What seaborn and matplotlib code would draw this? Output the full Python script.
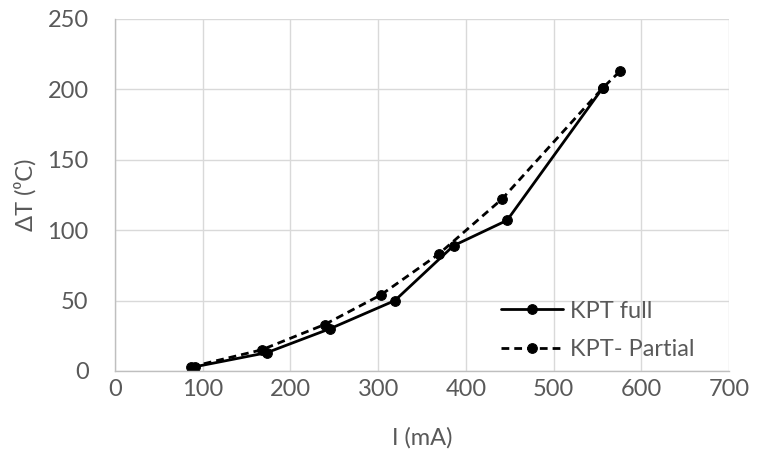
import matplotlib
matplotlib.use("Agg")
import matplotlib.pyplot as plt
import seaborn as sns

# ── Data ──────────────────────────────────────────────────────────────────────
full_i  = [91, 173, 245, 319, 386, 447, 556]
full_dt = [3, 13, 30, 50, 89, 107, 201]

partial_i  = [87, 167, 239, 303, 369, 441, 556, 576]
partial_dt = [3, 15, 33, 54, 83, 122, 201, 213]

x_ticks = [0, 100, 200, 300, 400, 500, 600, 700]
y_ticks = [0, 50, 100, 150, 200, 250]

# ── Style ─────────────────────────────────────────────────────────────────────
sns.set_style("white")
plt.rcParams["font.family"] = ["Lato", "DejaVu Sans"]
TXT = "#595959"
FS = 17

fig = plt.figure(figsize=(7.57, 4.62), dpi=100)
ax = fig.add_axes([0.152, 0.197, 0.811, 0.762])

sns.lineplot(x=full_i, y=full_dt, ax=ax, color="black", linewidth=2,
             marker="o", markersize=7, markeredgecolor="black", label="KPT full")
sns.lineplot(x=partial_i, y=partial_dt, ax=ax, color="black", linewidth=2,
             linestyle=(0, (2.8, 1.8)), marker="o", markersize=7,
             markeredgecolor="black", label="KPT- Partial")

ax.set_xlim(0, 700)
ax.set_ylim(0, 250)
ax.set_xticks(x_ticks)
ax.set_yticks(y_ticks)
ax.grid(True, color="#d9d9d9", linewidth=1)
ax.set_axisbelow(True)
for s in ["top", "right"]:
    ax.spines[s].set_visible(False)
for s in ["left", "bottom"]:
    ax.spines[s].set_color("#bfbfbf")
    ax.spines[s].set_linewidth(1)
ax.tick_params(axis="both", length=0, labelsize=FS, colors=TXT)
ax.tick_params(axis="x", pad=6)
ax.tick_params(axis="y", pad=19)

ax.set_xlabel("I (mA)", fontsize=FS, color=TXT, labelpad=19)
ax.set_ylabel("ΔT (⁰C)", fontsize=FS, color=TXT, labelpad=8)

leg = ax.legend(loc="lower left", bbox_to_anchor=(0.629, 0.03), frameon=False,
                fontsize=FS, handlelength=2.6, handletextpad=0.3,
                labelspacing=0.75, borderpad=0, borderaxespad=0)
for t in leg.get_texts():
    t.set_color(TXT)

fig.savefig("out.png", dpi=100)
